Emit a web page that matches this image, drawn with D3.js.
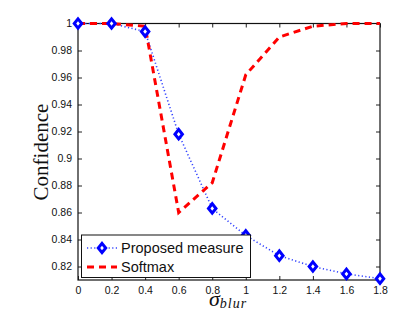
<!DOCTYPE html>
<html>
<head>
<meta charset="utf-8">
<script src="https://cdn.jsdelivr.net/npm/d3@7"></script>
<style>
  body { margin: 0; background: #fff; }
  svg { display: block; }
</style>
</head>
<body>
<div id="chart"></div>
<script>
// values
const sigma = [0, 0.2, 0.4, 0.6, 0.8, 1.0, 1.2, 1.4, 1.6, 1.8];
const proposed = [1, 1, 0.994, 0.918, 0.863, 0.843, 0.828, 0.820, 0.8145, 0.811];
const softmax = [1, 1, 0.998, 0.860, 0.882, 0.962, 0.990, 0.998, 1, 1];
const xTicks = [0, 0.2, 0.4, 0.6, 0.8, 1, 1.2, 1.4, 1.6, 1.8];
const yTicks = [0.82, 0.84, 0.86, 0.88, 0.9, 0.92, 0.94, 0.96, 0.98, 1];
const seriesNames = ["Proposed measure", "Softmax"];

const width = 420, height = 316;
const plotL = 78, plotR = 380, plotT = 23.5, plotB = 280;

const svg = d3.select("#chart").append("svg")
    .attr("width", width)
    .attr("height", height);

const x = d3.scaleLinear().domain([0, 1.8]).range([plotL, plotR]);
const y = d3.scaleLinear().domain([0.81, 1]).range([plotB, plotT]);

// ticks on all four sides, pointing inward
const fmt = d => d3.format("~g")(d);
const axisBottom = svg.append("g").attr("transform", `translate(0,${plotB})`)
    .call(d3.axisBottom(x).tickValues(xTicks).tickSize(-4).tickPadding(7).tickFormat(fmt));
const axisTop = svg.append("g").attr("transform", `translate(0,${plotT})`)
    .call(d3.axisTop(x).tickValues(xTicks).tickSize(-4).tickFormat(""));
const axisLeft = svg.append("g").attr("transform", `translate(${plotL},0)`)
    .call(d3.axisLeft(y).tickValues(yTicks).tickSize(-4).tickPadding(6).tickFormat(fmt));
const axisRight = svg.append("g").attr("transform", `translate(${plotR},0)`)
    .call(d3.axisRight(y).tickValues(yTicks).tickSize(-4).tickFormat(""));

[axisBottom, axisTop, axisLeft, axisRight].forEach(g => {
  g.select(".domain").remove();
  g.selectAll("line").attr("stroke", "#222");
  g.selectAll("text")
      .attr("font-family", "Liberation Sans, Arial, sans-serif")
      .attr("font-size", 10.5)
      .attr("fill", "#111");
});

svg.append("rect")
    .attr("x", plotL).attr("y", plotT)
    .attr("width", plotR - plotL).attr("height", plotB - plotT)
    .attr("fill", "none").attr("stroke", "#111").attr("stroke-width", 1.2);

const line = d3.line().x(d => x(d[0])).y(d => y(d[1]));

const propData = sigma.map((s, i) => [s, proposed[i]]);
const softData = sigma.map((s, i) => [s, softmax[i]]);

// matlab-style diamond, a little taller than wide
const matDiamond = {
  draw(ctx, size) {
    const w = Math.sqrt(size) / 2, h = w * 1.25;
    ctx.moveTo(0, -h); ctx.lineTo(w, 0); ctx.lineTo(0, h); ctx.lineTo(-w, 0); ctx.closePath();
  }
};
const diamond = d3.symbol().type(matDiamond).size(56);

const plot = svg.append("g");

plot.append("path")
    .datum(propData)
    .attr("d", line)
    .attr("fill", "none")
    .attr("stroke", "#3344ff")
    .attr("stroke-width", 1.6)
    .attr("stroke-dasharray", "1.2,2.4");

plot.append("path")
    .datum(softData)
    .attr("d", line)
    .attr("fill", "none")
    .attr("stroke", "#ff0000")
    .attr("stroke-width", 3)
    .attr("stroke-dasharray", "7,5");

plot.selectAll(".mark")
    .data(propData)
    .enter()
    .append("path")
    .attr("class", "mark")
    .attr("transform", d => `translate(${x(d[0])},${y(d[1])})`)
    .attr("d", diamond)
    .attr("fill", "#fff")
    .attr("stroke", "#0000ff")
    .attr("stroke-width", 3);

// legend
const legend = svg.append("g");
legend.append("rect")
    .attr("x", 81.5).attr("y", 235)
    .attr("width", 169).attr("height", 42.5)
    .attr("fill", "#fff").attr("stroke", "#111").attr("stroke-width", 1);

const rows = [
  { name: seriesNames[0], cy: 248, color: "#3344ff", dash: "1.2,2.4", w: 1.6, marker: true },
  { name: seriesNames[1], cy: 267, color: "#ff0000", dash: "7,5", w: 3, marker: false }
];
rows.forEach(r => {
  legend.append("line")
      .attr("x1", 87).attr("x2", 117)
      .attr("y1", r.cy).attr("y2", r.cy)
      .attr("stroke", r.color)
      .attr("stroke-width", r.w)
      .attr("stroke-dasharray", r.dash);
  if (r.marker) {
    legend.append("path")
        .attr("transform", `translate(102,${r.cy})`)
        .attr("d", diamond)
        .attr("fill", "#fff")
        .attr("stroke", "#0000ff")
        .attr("stroke-width", 3);
  }
  legend.append("text")
      .attr("x", 121).attr("y", r.cy + 5)
      .attr("font-family", "Liberation Sans, Arial, sans-serif")
      .attr("font-size", 14.5)
      .attr("fill", "#111")
      .text(r.name);
});

// axis titles
svg.append("text")
    .attr("transform", "translate(48,152) rotate(-90)")
    .attr("text-anchor", "middle")
    .attr("font-family", "Liberation Serif, Times New Roman, serif")
    .attr("font-size", 21)
    .attr("fill", "#111")
    .text("Confidence");

const xt = svg.append("text")
    .attr("x", 209).attr("y", 306)
    .attr("font-family", "Liberation Serif, Times New Roman, serif")
    .attr("font-style", "italic")
    .attr("fill", "#111");
xt.append("tspan").attr("font-size", 22).text("σ");
xt.append("tspan").attr("font-size", 14).attr("dy", 1.5)
    .attr("letter-spacing", 1).text("blur");
</script>
</body>
</html>
